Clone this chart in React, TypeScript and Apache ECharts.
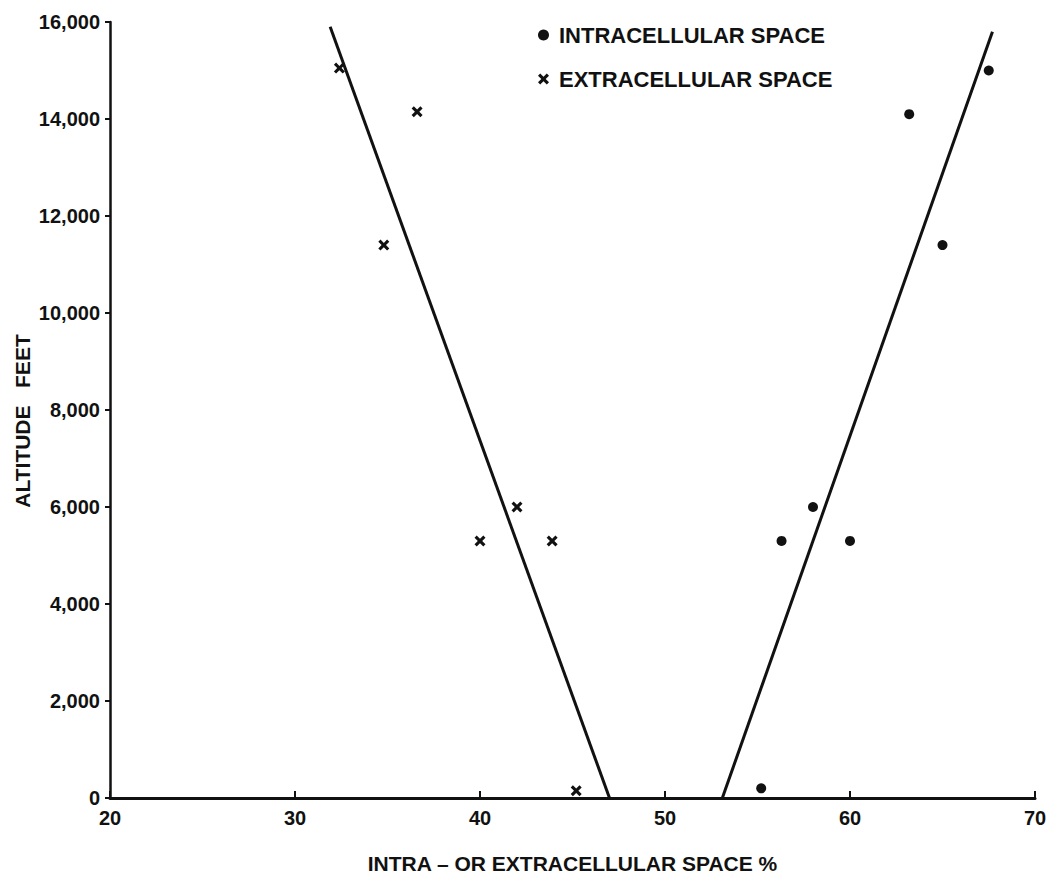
import React, { useEffect, useRef } from "react";
import * as echarts from "echarts";

const xTicks = [20, 30, 40, 50, 60, 70];
const yTicks = [0, 2000, 4000, 6000, 8000, 10000, 12000, 14000, 16000];

const intraX = [67.5, 63.2, 65.0, 56.3, 58.0, 60.0, 55.2];
const intraY = [15000, 14100, 11400, 5300, 6000, 5300, 200];

const extraX = [32.4, 36.6, 34.8, 40.0, 42.0, 43.9, 45.2];
const extraY = [15050, 14150, 11400, 5300, 6000, 5300, 150];

const intraLineX = [53.1, 67.7];
const intraLineY = [0, 15800];
const extraLineX = [47.0, 31.9];
const extraLineY = [0, 15900];

const CROSS =
  "path://M0,2L2,0L5,3L8,0L10,2L7,5L10,8L8,10L5,7L2,10L0,8L3,5Z";

const FONT = "Liberation Sans";
const INK = "#111111";

export default function App() {
  const ref = useRef<HTMLDivElement>(null);
  useEffect(() => {
    const chart = echarts.init(ref.current!, null, { renderer: "svg" });
    const zip = (xs: number[], ys: number[]) => xs.map((x, i) => [x, ys[i]]);
    chart.setOption({
      animation: false,
      backgroundColor: "#ffffff",
      textStyle: { fontFamily: FONT },
      grid: {
        left: 110,
        top: 22,
        right: 15,
        bottom: 76,
        containLabel: false,
        outerBoundsMode: "none",
      },
      graphic: [
        {
          type: "text",
          x: 22,
          y: 421,
          rotation: Math.PI / 2,
          style: {
            text: "ALTITUDE   FEET",
            fontFamily: FONT,
            fontWeight: "bold",
            fontSize: 21,
            fill: INK,
            align: "center",
            verticalAlign: "middle",
          },
        },
      ],
      legend: {
        left: 533,
        top: 19,
        orient: "vertical",
        itemGap: 22,
        itemWidth: 11,
        itemHeight: 11,
        data: [
          { name: "INTRACELLULAR SPACE", icon: "circle", itemStyle: { color: INK, opacity: 1 } },
          { name: "EXTRACELLULAR SPACE", icon: CROSS, itemStyle: { color: INK, opacity: 1 } },
        ],
        textStyle: { fontFamily: FONT, fontWeight: "bold", fontSize: 22, color: INK, padding: [0, 0, 0, 5] },
        itemStyle: { borderWidth: 0 },
      },
      xAxis: {
        type: "value",
        min: xTicks[0],
        max: xTicks[xTicks.length - 1],
        interval: 10,
        name: "INTRA – OR EXTRACELLULAR SPACE %",
        nameLocation: "middle",
        nameGap: 55,
        nameTextStyle: { fontFamily: FONT, fontWeight: "bold", fontSize: 21, color: INK },
        splitLine: { show: false },
        axisLine: { show: true, lineStyle: { color: INK, width: 3 } },
        axisTick: { show: true, inside: true, length: 7, lineStyle: { color: INK, width: 2 } },
        axisLabel: {
          fontFamily: FONT,
          fontWeight: "bold",
          fontSize: 20,
          color: INK,
          margin: 10,
        },
      },
      yAxis: {
        type: "value",
        min: yTicks[0],
        max: yTicks[yTicks.length - 1],
        interval: 2000,
        splitLine: { show: false },
        axisLine: { show: true, lineStyle: { color: INK, width: 2.5 } },
        axisTick: { show: true, inside: false, length: 5, lineStyle: { color: INK, width: 2 } },
        axisLabel: {
          fontFamily: FONT,
          fontWeight: "bold",
          fontSize: 20,
          color: INK,
          margin: 10,
          formatter: (v: number) => v.toLocaleString("en-US"),
        },
      },
      series: [
        {
          name: "INTRACELLULAR SPACE",
          type: "scatter",
          symbol: "circle",
          symbolSize: 10,
          itemStyle: { color: INK, opacity: 1 },
          data: zip(intraX, intraY),
        },
        {
          name: "EXTRACELLULAR SPACE",
          type: "scatter",
          symbol: CROSS,
          symbolSize: 11,
          itemStyle: { color: INK, opacity: 1 },
          data: zip(extraX, extraY),
        },
        {
          name: "intraFit",
          type: "line",
          showSymbol: false,
          symbol: "none",
          lineStyle: { color: INK, width: 3 },
          data: zip(intraLineX, intraLineY),
        },
        {
          name: "extraFit",
          type: "line",
          showSymbol: false,
          symbol: "none",
          lineStyle: { color: INK, width: 3 },
          data: zip(extraLineX, extraLineY),
        },
      ],
    });
    return () => chart.dispose();
  }, []);
  return <div ref={ref} style={{ width: 1050, height: 874, position: "absolute", left: 0, top: 0 }} />;
}
